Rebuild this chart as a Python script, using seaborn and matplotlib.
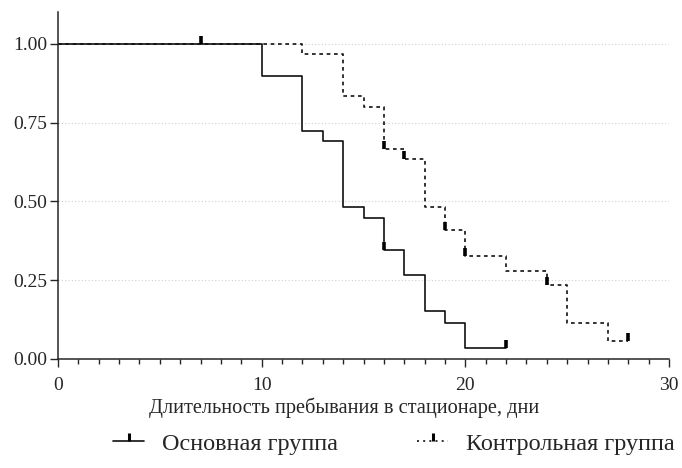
import numpy as np
import pandas as pd
import seaborn as sns
import matplotlib.pyplot as plt
from matplotlib.lines import Line2D

# Kaplan-Meier steps
main_time = [0, 10, 12, 13, 14, 15, 16, 17, 18, 19, 20, 22]
main_surv = [1.00, 0.897, 0.724, 0.690, 0.483, 0.448, 0.345, 0.267, 0.152, 0.113, 0.035, 0.035]
main_cens_time = [7, 16, 22]
main_cens_surv = [1.00, 0.345, 0.035]

ctrl_time = [0, 12, 14, 15, 16, 17, 18, 19, 20, 22, 24, 25, 27, 28]
ctrl_surv = [1.00, 0.967, 0.833, 0.800, 0.667, 0.633, 0.483, 0.408, 0.327, 0.280, 0.233, 0.113, 0.057, 0.057]
ctrl_cens_time = [16, 17, 19, 20, 24, 28]
ctrl_cens_surv = [0.667, 0.633, 0.408, 0.327, 0.233, 0.057]

groups = ["Основная группа", "Контрольная группа"]
y_ticks = [0.00, 0.25, 0.50, 0.75, 1.00]

df = pd.concat([
    pd.DataFrame({"time": main_time, "surv": main_surv, "group": groups[0]}),
    pd.DataFrame({"time": ctrl_time, "surv": ctrl_surv, "group": groups[1]}),
], ignore_index=True)

sns.set_style("ticks")
plt.rcParams["font.family"] = ["Liberation Serif", "DejaVu Serif"]
plt.rcParams["font.size"] = 14

fig = plt.figure(figsize=(6.82, 4.68), dpi=100)
ax = fig.add_axes([0.085, 0.233, 0.896, 0.741])

for y in y_ticks[1:]:
    ax.axhline(y, color="#d0d0d0", lw=0.8, ls=(0, (1, 2)), zorder=0)

sns.lineplot(data=df, x="time", y="surv", hue="group", style="group",
             palette=["#111111", "#111111"], dashes=["", (2.2, 2.2)],
             drawstyle="steps-post", estimator=None, lw=1.2, legend=False, ax=ax)

# censor marks: short ticks pointing up
tick = [(0, 0), (0, 1)]
ax.plot(main_cens_time, main_cens_surv, ls="none", marker=tick, ms=12,
        mew=2.6, mec="black", zorder=5)
ax.plot(ctrl_cens_time, ctrl_cens_surv, ls="none", marker=tick, ms=12,
        mew=2.6, mec="black", zorder=5)

ax.set_xlim(0, 30)
ax.set_ylim(0, 1.1)
ax.set_xticks([0, 10, 20, 30])
ax.set_xticks(np.arange(0, 31, 1), minor=True)
ax.set_yticks(y_ticks)
ax.set_yticklabels([f"{v:.2f}" for v in y_ticks])
ax.tick_params(axis="both", which="major", length=6, width=1, labelsize=14)
ax.tick_params(axis="x", which="major", pad=7)
ax.tick_params(axis="y", which="major", pad=2)
ax.tick_params(axis="x", which="minor", length=3.5, width=1)
ax.set_xlabel("Длительность пребывания в стационаре, дни", fontsize=14.7)
ax.xaxis.set_label_coords(0.468, -0.112)
ax.set_ylabel("")
sns.despine(ax=ax)
for s in ["left", "bottom"]:
    ax.spines[s].set_linewidth(1.1)

handles = [
    Line2D([], [], color="#111111", lw=1.2, marker=tick, ms=12, mew=2.2, mec="black"),
    Line2D([], [], color="#111111", lw=1.2, ls=(0, (1.2, 2.5)), marker=tick, ms=12, mew=2.2, mec="black"),
]
fig.legend(handles, groups, loc="center", bbox_to_anchor=(0.578, 0.052), ncol=2,
           frameon=False, handlelength=1.28, handletextpad=0.74, columnspacing=3.25,
           fontsize=17.5)

fig.savefig("out.png", dpi=100)
